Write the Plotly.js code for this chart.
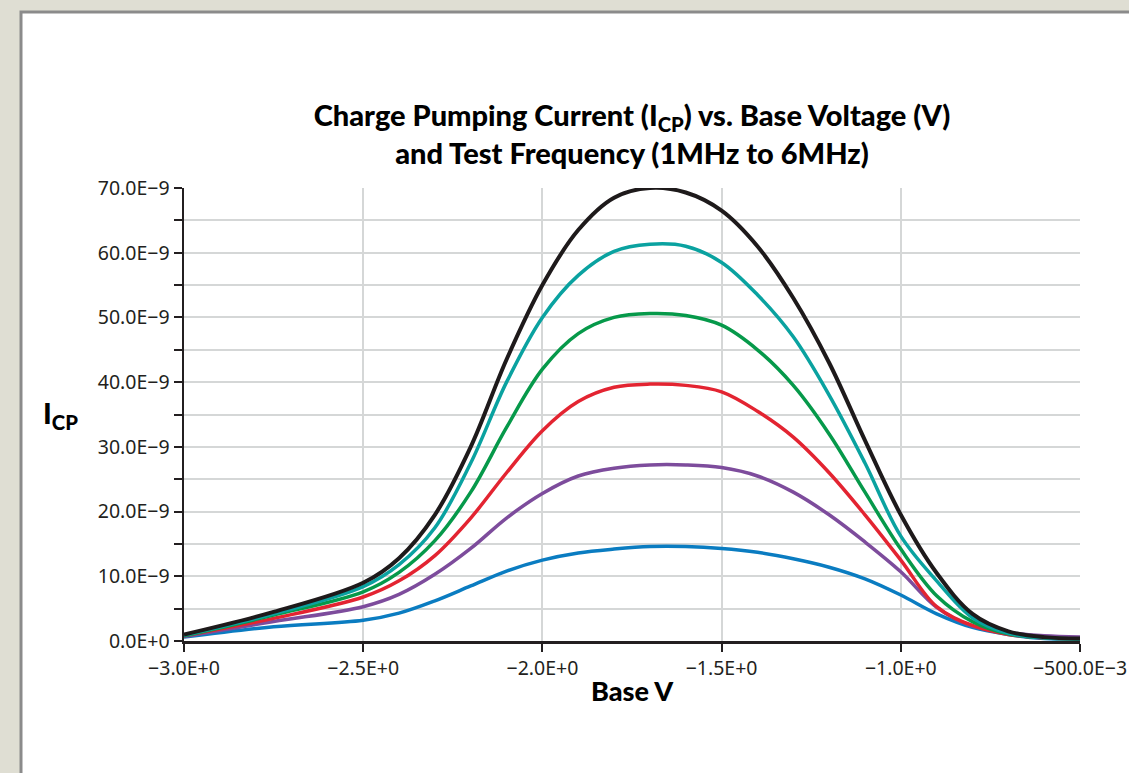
<!DOCTYPE html>
<html>
<head>
<meta charset="utf-8">
<script src="https://cdn.plot.ly/plotly-3.0.1.min.js"></script>
<style>html,body{margin:0;padding:0;background:#dfded3;}#chart{width:1129px;height:773px;}</style>
</head>
<body>
<div id="chart"></div>
<script>
// Base voltage (V)
const baseV = [-3.0, -2.75, -2.5, -2.4, -2.3, -2.2, -2.1, -2.0, -1.9, -1.8, -1.7, -1.6, -1.5, -1.4, -1.3, -1.2, -1.1, -1.0, -0.9, -0.8, -0.7, -0.6, -0.5];
// Charge pumping current, nA
const icp6MHz = [1.0, 4.5, 9.0, 12.8, 19.5, 30, 43.5, 55, 63.5, 68.5, 70, 69.3, 66.5, 61, 53, 43, 31, 19.5, 10.5, 4.2, 1.5, 0.6, 0.4];
const icp5MHz = [0.9, 4.2, 8.4, 11.8, 17.5, 27.5, 40, 50, 56.5, 60.2, 61.3, 61, 58.5, 53.5, 47, 38, 27.5, 16.2, 9.3, 3.6, 1.2, 0.5, 0.3];
const icp4MHz = [0.8, 4.0, 7.6, 10.6, 15.5, 23, 33, 42, 47.5, 50, 50.6, 50.3, 48.8, 45, 39.5, 32, 23, 14.2, 7, 3, 1.1, 0.5, 0.3];
const icp3MHz = [0.8, 3.5, 6.8, 9.3, 13.2, 19, 26, 32.5, 37, 39.2, 39.7, 39.5, 38.5, 35.5, 31.5, 26, 19.5, 12.5, 5.3, 2.4, 1.0, 0.5, 0.3];
const icp2MHz = [0.7, 3.0, 5.3, 7.2, 10.3, 14.3, 19.0, 22.8, 25.5, 26.7, 27.2, 27.2, 26.8, 25.5, 23, 19.5, 15.3, 10.7, 5.2, 2.3, 1.3, 0.8, 0.6];
const icp1MHz = [0.6, 2.2, 3.2, 4.3, 6.2, 8.5, 10.8, 12.5, 13.6, 14.2, 14.6, 14.6, 14.3, 13.7, 12.7, 11.4, 9.6, 7.1, 4.2, 2.1, 1.0, 0.4, 0.3];
const seriesNames = ['1MHz', '2MHz', '3MHz', '4MHz', '5MHz', '6MHz'];
const seriesData = [icp1MHz, icp2MHz, icp3MHz, icp4MHz, icp5MHz, icp6MHz];
const seriesColors = ['#0a7cc1', '#7d4c9c', '#e32431', '#06994a', '#0aa2a0', '#1e1a1b'];

const xTickVals = [-3.0, -2.5, -2.0, -1.5, -1.0, -0.5];
const xTickText = ['\u22123.0E+0', '\u22122.5E+0', '\u22122.0E+0', '\u22121.5E+0', '\u22121.0E+0', '\u2212500.0E\u22123'];
const yTickVals = [0, 10, 20, 30, 40, 50, 60, 70];
const yTickText = ['0.0E+0', '10.0E\u22129', '20.0E\u22129', '30.0E\u22129', '40.0E\u22129', '50.0E\u22129', '60.0E\u22129', '70.0E\u22129'];

const traces = seriesData.map((d, i) => ({
  x: baseV, y: d, type: 'scatter', mode: 'lines', name: seriesNames[i],
  line: {color: seriesColors[i], width: i === 5 ? 4 : 3.5, shape: 'spline', smoothing: 1.0},
  hoverinfo: 'skip'
}));

const L = 184, R = 1080, T = 188, B = 641;
const px = v => (v - L) / (R - L);
const py = v => (B - v) / (B - T);
const tickFont = {family: 'Noto Sans, sans-serif', size: 19.5, color: '#231f20'};

const layout = {
  width: 1129, height: 773,
  margin: {l: L, r: 1129 - R, t: T, b: 773 - B, pad: 0},
  paper_bgcolor: '#dfded3',
  plot_bgcolor: 'rgba(0,0,0,0)',
  showlegend: false,
  font: {family: 'Noto Sans, sans-serif', color: '#231f20'},
  title: {
    text: 'Charge Pumping Current (I<sub>CP</sub>) vs. Base Voltage (V)<br>and Test Frequency (1MHz to 6MHz)',
    font: {family: 'Lato, sans-serif', size: 29, color: '#000', weight: 900},
    x: 0.5, xref: 'paper', xanchor: 'center',
    y: 1 - 126 / 773, yanchor: 'middle', yref: 'container'
  },
  xaxis: {
    range: [-3.0, -0.5], tickmode: 'array', tickvals: xTickVals, ticktext: xTickText,
    showgrid: true, gridcolor: '#d5d7d7', gridwidth: 2,
    showline: true, linecolor: '#231f20', linewidth: 2.5,
    ticks: 'outside', ticklen: 8, tickwidth: 2, tickcolor: '#231f20',
    tickfont: tickFont, zeroline: false, fixedrange: true, ticklabeloverflow: 'allow'
  },
  yaxis: {
    range: [0, 70], tickmode: 'array', tickvals: yTickVals, ticktext: yTickText,
    showgrid: true, gridcolor: '#d5d7d7', gridwidth: 2,
    showline: true, linecolor: '#231f20', linewidth: 2.5,
    ticks: 'outside', ticklen: 8, tickwidth: 2, tickcolor: '#231f20',
    minor: {tick0: 0, dtick: 5, ticks: 'outside', ticklen: 8, tickwidth: 2, tickcolor: '#231f20',
            showgrid: true, gridcolor: '#d5d7d7', gridwidth: 2},
    tickfont: tickFont, zeroline: false, fixedrange: true, ticklabeloverflow: 'allow'
  },
  shapes: [
    {type: 'rect', xref: 'paper', yref: 'paper', layer: 'below',
     x0: px(21), x1: px(1140), y0: py(800), y1: py(12),
     fillcolor: '#ffffff', line: {color: '#8b8b8b', width: 3}}
  ],
  annotations: [
    {text: 'I<sub>CP</sub>', xref: 'paper', yref: 'paper', x: px(60), y: py(414),
     xanchor: 'center', yanchor: 'middle', showarrow: false,
     font: {family: 'Lato, sans-serif', size: 29, color: '#000', weight: 900}},
    {text: 'Base V', xref: 'paper', yref: 'paper', x: px(632), y: py(690),
     xanchor: 'center', yanchor: 'middle', showarrow: false,
     font: {family: 'Lato, sans-serif', size: 27, color: '#000', weight: 900}}
  ]
};

Plotly.newPlot('chart', traces, layout, {displayModeBar: false, staticPlot: true});
</script>
</body>
</html>
